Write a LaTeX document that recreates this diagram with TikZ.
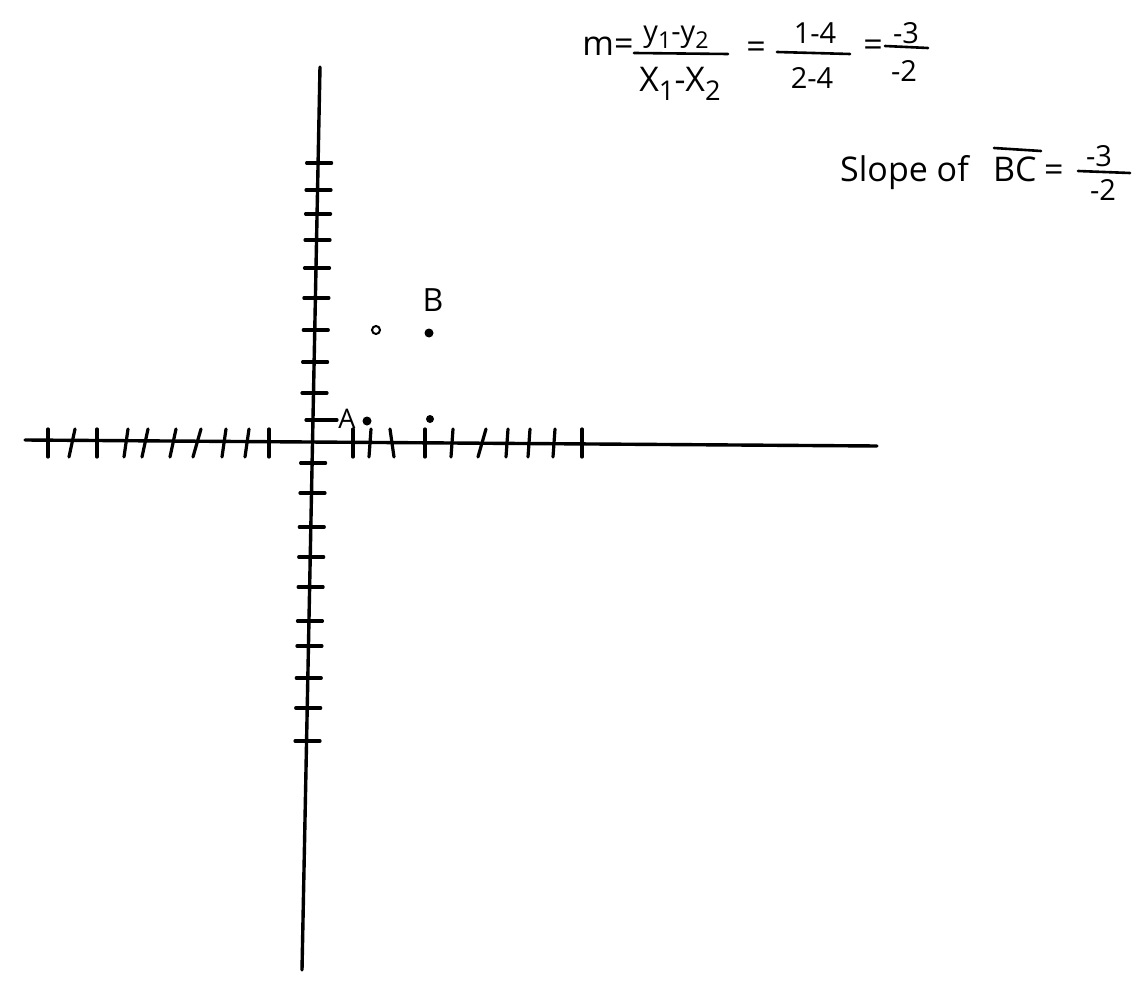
\documentclass[tikz,border=0pt]{standalone}
\usepackage{fontspec}
\setmainfont{Open Sans}
\newcommand{\sbx}[1]{\raisebox{-0.25em}{\scalebox{0.8}{#1}}}
\tikzset{
  axis/.style={line width=3.4pt, line cap=round},
  tick/.style={line width=3.2pt, line cap=round},
  hand/.style={inner sep=0pt, font=\fontsize{34}{40}\selectfont},
  small/.style={inner sep=0pt, font=\fontsize{29}{34}\selectfont},
  bar/.style={line width=2.6pt, line cap=round},
  dotf/.style={circle, fill=black, inner sep=0pt, minimum size=9pt},
  doto/.style={circle, draw=black, line width=2pt, inner sep=0pt, minimum size=8pt}
}
\begin{document}
\begin{tikzpicture}[x=1pt,y=-1pt]
\useasboundingbox (0,0) rectangle (1135,987);
% axes
\coordinate (ytop) at (320,67);
\coordinate (ybot) at (302,970);
\coordinate (xl) at (25,440);
\coordinate (xr) at (877,446);
\draw[axis] (ytop) -- (ybot);
\draw[axis] (xl) -- (xr);
% vertical-axis ticks
\foreach \y in {163,190,214,240,268,298,330,362,393,
                463,493,527,557,587,621,646,678,708,741}{
  \pgfmathsetmacro{\xc}{313-0.02*(\y-443)}
  \draw[tick] (\xc-12,\y) -- (\xc+13,\y);
}
\draw[tick] (306,420) -- (337,420);
% horizontal-axis ticks
\foreach \x/\s in {48/0,72/3,97/0,126/2,145/3,173/3,197/4,224/2,247/2,269/0,
                   353/0,370/1,392/-2,425/0,452/1,482/4,507/1,529/1,554/1,582/0}{
  \draw[tick] (\x+\s,429) -- (\x-\s,457);
}
% points
\node[doto] (P) at (376,330) {};
\node[dotf] (B) at (429,333) {};
\node[hand, font=\fontsize{32}{36}\selectfont] (Blab) at (433,300) {B};
\node[dotf] (A) at (367,421) {};
\node[hand, font=\fontsize{27}{30}\selectfont] (Alab) at (347,419) {A};
\node[dotf, minimum size=8pt] (C) at (430,419) {};
% formula
\node[hand] (m) at (608,46) {m=};
\draw[bar] (634,53) -- (728,54);
\node[small] (n1) at (676,37) {y\sbx{1}-y\sbx{2}};
\node[hand] (d1) at (680,84) {X\sbx{1}-X\sbx{2}};
\node[hand] (e1) at (756,50) {=};
\draw[bar] (777,52) -- (850,54);
\node[small] (n2) at (815,33) {1-4};
\node[small] (d2) at (812,78) {2-4};
\node[hand] (e2) at (873,48) {=};
\draw[bar] (885,46) -- (928,48);
\node[small] (n3) at (906,33) {-3};
\node[small] (d3) at (904,71) {-2};
% slope line
\node[hand, anchor=base west] (sl) at (840,182) {Slope of};
\node[hand, anchor=base west] (bc) at (993,182) {BC};
\draw[bar] (994,148) -- (1041,151);
\node[hand, anchor=base west] (e3) at (1044,182) {=};
\draw[bar] (1078,171) -- (1130,173);
\node[small] (n4) at (1099,156) {-3};
\node[small] (d4) at (1103,190) {-2};
\end{tikzpicture}
\end{document}
